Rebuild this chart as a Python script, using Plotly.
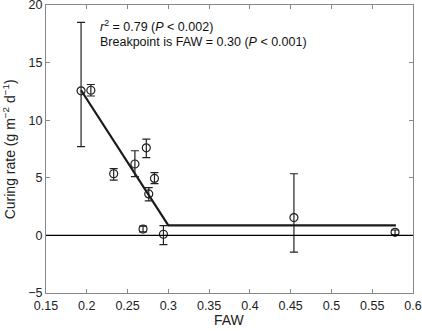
import plotly.graph_objects as go

faw = [0.193, 0.205, 0.233, 0.259, 0.273, 0.269, 0.276, 0.283, 0.294, 0.454, 0.578]
rate = [12.55, 12.6, 5.35, 6.2, 7.6, 0.55, 3.6, 4.95, 0.1, 1.55, 0.27]
err_plus = [5.95, 0.5, 0.45, 1.15, 0.75, 0.25, 0.55, 0.5, 0.75, 3.8, 0.2]
err_minus = [4.85, 0.5, 0.55, 1.1, 0.85, 0.25, 0.6, 0.45, 0.9, 3.0, 0.2]

fit_x = [0.193, 0.30, 0.579]
fit_y = [12.6, 0.87, 0.87]

x_ticks = [0.15, 0.2, 0.25, 0.3, 0.35, 0.4, 0.45, 0.5, 0.55, 0.6]
x_tick_labels = ["0.15", "0.2", "0.25", "0.3", "0.35", "0.4", "0.45", "0.5", "0.55", "0.6"]
y_ticks = [-5, 0, 5, 10, 15, 20]

FONT = "Liberation Sans, Arial, Helvetica, sans-serif"

fig = go.Figure()
fig.add_trace(go.Scatter(
    x=fit_x, y=fit_y, mode="lines",
    line=dict(color="#1a1a1a", width=2.2), showlegend=False, hoverinfo="skip"))
fig.add_trace(go.Scatter(
    x=faw, y=rate, mode="markers",
    marker=dict(symbol="circle-open", size=8, color="#222", line=dict(width=1.2)),
    error_y=dict(type="data", symmetric=False, array=err_plus, arrayminus=err_minus,
                 color="#222", thickness=1.2, width=4),
    showlegend=False))

fig.add_shape(type="line", xref="paper", yref="y", x0=0, x1=1, y0=0, y1=0,
              line=dict(color="black", width=1.2))

fig.add_annotation(xref="x", yref="y", x=0.214, y=18.2, xanchor="left", yanchor="middle",
                   text="<i>r</i><sup>2</sup> = 0.79 (<i>P</i> &lt; 0.002)", showarrow=False,
                   font=dict(family=FONT, size=12.5, color="#111"))
fig.add_annotation(xref="x", yref="y", x=0.214, y=16.75, xanchor="left", yanchor="middle",
                   text="Breakpoint is FAW = 0.30 (<i>P</i> &lt; 0.001)", showarrow=False,
                   font=dict(family=FONT, size=12.5, color="#111"))

# axis titles as annotations for exact placement
fig.add_annotation(xref="paper", yref="paper", x=0.5, y=-0.058, xanchor="center", yanchor="top",
                   text="FAW", showarrow=False,
                   font=dict(family=FONT, size=14, color="#222"))
fig.add_annotation(xref="paper", yref="paper", x=-0.1, y=0.5, xanchor="center", yanchor="middle",
                   text="Curing rate (g m<sup>\u22122</sup> d<sup>\u22121</sup>)", textangle=-90,
                   showarrow=False, font=dict(family=FONT, size=14, color="#222"))

axis_common = dict(showline=True, linecolor="#888", linewidth=1, mirror="allticks",
                   ticks="inside", ticklen=4, tickcolor="#888", showgrid=False, zeroline=False,
                   automargin=False, ticklabeloverflow="allow",
                   tickfont=dict(family=FONT, size=12.5, color="#222"))

fig.update_xaxes(range=[0.15, 0.6], tickvals=x_ticks, ticktext=x_tick_labels,
                 ticklabelstandoff=1, **axis_common)
fig.update_yaxes(range=[-5, 20], tickvals=y_ticks, **axis_common)

fig.update_layout(width=422, height=331, margin=dict(l=46, r=9, t=5, b=38),
                  plot_bgcolor="white", paper_bgcolor="white")

fig.write_html("out.html", config={"displayModeBar": False},
               post_script="document.body.style.margin='0';document.body.style.padding='0';")
